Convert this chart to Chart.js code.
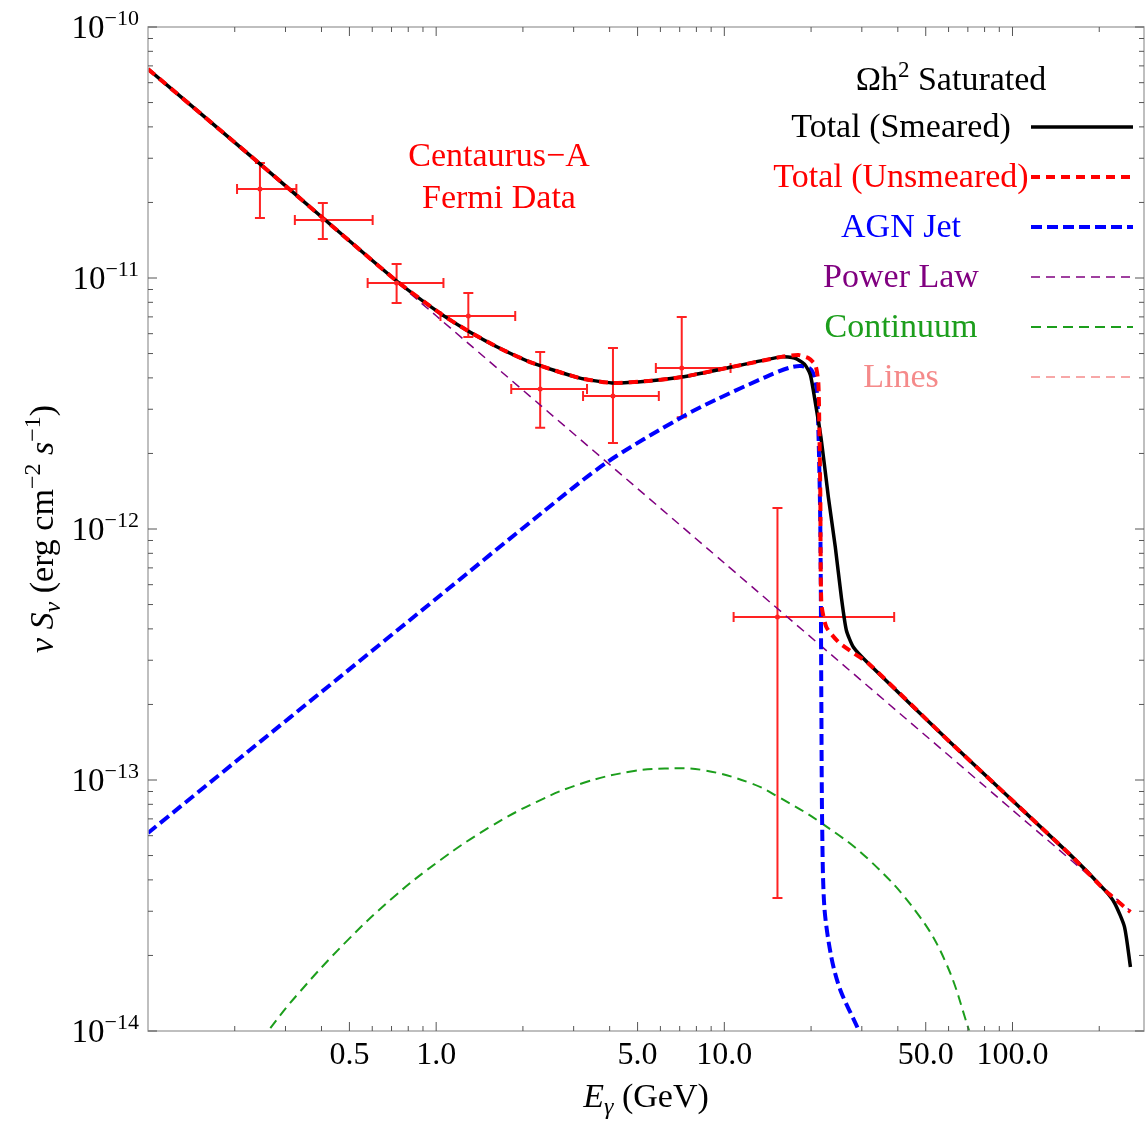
<!DOCTYPE html>
<html>
<head>
<meta charset="utf-8">
<script src="https://cdn.jsdelivr.net/npm/chart.js@4.4.0/dist/chart.umd.min.js"></script>
<style>
  html, body { margin: 0; padding: 0; background: #fff; }
  #wrap { width: 1148px; height: 1122px; position: relative; }
</style>
</head>
<body>
<div id="wrap"><canvas id="sed"></canvas></div>
<script>
const SERIF = '"Liberation Serif", "Times New Roman", "DejaVu Serif", serif';

// E (GeV) and nu S_nu (erg cm^-2 s^-1)
const smearedE = [0.1, 0.2446, 0.4043, 0.729, 1.027, 1.273, 1.656, 2.154, 3.132, 4.074, 5.47, 7.115, 10.60, 15.79, 17.51, 18.97, 19.89, 20.70, 21.71, 22.96, 24.27, 25.47, 26.50, 28.02, 31.57, 61.16, 159.1, 208.7, 225.9, 244.7, 256.6];
const smearedF = [6.80e-11, 2.85e-11, 1.734e-11, 9.73e-12, 7.26e-12, 6.21e-12, 5.26e-12, 4.59e-12, 4.00e-12, 3.82e-12, 3.89e-12, 4.03e-12, 4.42e-12, 4.85e-12, 4.80e-12, 4.54e-12, 4.11e-12, 3.18e-12, 2.26e-12, 1.341e-12, 8.48e-13, 5.36e-13, 3.96e-13, 3.39e-13, 2.92e-13, 1.404e-13, 5.02e-14, 3.65e-14, 3.24e-14, 2.60e-14, 1.80e-14];

const unsmearedE = [0.1, 0.2446, 0.4043, 0.729, 1.027, 1.273, 1.656, 2.154, 3.132, 4.074, 5.47, 7.115, 10.60, 15.79, 18.08, 19.57, 20.70, 21.20, 21.37, 21.54, 21.71, 22.59, 24.86, 28.02, 31.57, 61.16, 159.1, 208.7, 256.6];
const unsmearedF = [6.80e-11, 2.85e-11, 1.734e-11, 9.73e-12, 7.26e-12, 6.21e-12, 5.26e-12, 4.59e-12, 4.00e-12, 3.82e-12, 3.89e-12, 4.03e-12, 4.42e-12, 4.85e-12, 4.93e-12, 4.80e-12, 4.50e-12, 3.82e-12, 2.48e-12, 1.341e-12, 5.07e-13, 4.07e-13, 3.55e-13, 3.21e-13, 2.92e-13, 1.404e-13, 5.02e-14, 3.65e-14, 2.98e-14];

const agnE = [0.1, 0.2086, 0.4628, 1.027, 2.278, 3.884, 7.115, 9.33, 13.90, 16.69, 18.51, 20.05, 20.86, 21.20, 21.54, 21.71, 21.85, 22.24, 23.51, 25.26, 28.92, 30.59];
const agnF = [6.15e-14, 1.223e-13, 2.57e-13, 5.41e-13, 1.137e-12, 1.832e-12, 2.79e-12, 3.27e-12, 4.03e-12, 4.38e-12, 4.46e-12, 4.30e-12, 3.68e-12, 2.48e-12, 9.91e-13, 2.08e-13, 6.74e-14, 3.12e-14, 1.97e-14, 1.457e-14, 1.037e-14, 8.79e-15];

const powerLawE = [0.1, 1, 10, 100, 256.6];
const powerLawF = [6.80e-11, 7.07e-12, 7.32e-13, 7.59e-14, 3.01e-14];

const continuumE = [0.2485, 0.2629, 0.3312, 0.4856, 0.7059, 1.035, 1.517, 2.224, 3.234, 4.741, 6.216, 8.41, 12.31, 15.41, 21.71, 31.83, 46.67, 58.78, 70.6, 72.3];
const continuumF = [9.04e-15, 1.009e-14, 1.404e-14, 2.26e-14, 3.39e-14, 4.80e-14, 6.44e-14, 8.17e-14, 9.73e-14, 1.081e-13, 1.111e-13, 1.096e-13, 9.73e-14, 8.56e-14, 6.74e-14, 4.80e-14, 2.95e-14, 1.866e-14, 1.009e-14, 9.04e-15];

// line component lies below the plotted range
const linesE = [];
const linesF = [];

// Fermi data points with bin edges and flux errors
const fermiE   = [0.2446, 0.4043, 0.729, 1.293, 2.296, 4.107, 7.115, 15.29];
const fermiELo = [0.2037, 0.3233, 0.5784, 1.035, 1.822, 3.234, 5.786, 10.77];
const fermiEHi = [0.3273, 0.602, 1.060, 1.881, 3.338, 5.925, 10.51, 38.85];
const fermiF   = [2.26e-11, 1.702e-11, 9.55e-12, 7.06e-12, 3.61e-12, 3.39e-12, 4.38e-12, 4.46e-13];
const fermiFLo = [1.734e-11, 1.43e-11, 7.95e-12, 5.82e-12, 2.53e-12, 2.20e-12, 2.79e-12, 3.39e-14];
const fermiFHi = [2.87e-11, 1.99e-11, 1.137e-11, 8.71e-12, 5.07e-12, 5.26e-12, 6.99e-12, 1.213e-12];

const xMajorTicks = [0.5, 1, 5, 10, 50, 100];
const xMinorTicks = [0.2, 0.3, 0.4, 0.6, 0.7, 0.8, 0.9, 2, 3, 4, 6, 7, 8, 9, 20, 30, 40, 60, 70, 80, 90, 200];
const yMajorTicks = [1e-14, 1e-13, 1e-12, 1e-11, 1e-10];
const yMinorSteps = [2, 3, 4, 5, 6, 7, 8, 9];

const legendOrder = ['Total (Smeared)', 'Total (Unsmeared)', 'AGN Jet', 'Power Law', 'Continuum', 'Lines'];
const legendTitle = [{ t: 'Ωh' }, { t: '2', size: 23, dy: -13 }, { t: ' Saturated' }];
const sourceText = ['Centaurus\u2212A', 'Fermi Data'];

function pts(E, F) {
    return E.map((e, i) => ({ x: e, y: F[i] }));
}

function runFont(r, base) {
    return (r.italic ? 'italic ' : '') + (r.size || base) + 'px ' + SERIF;
}

// draw a line of text made of runs (sub/superscripts, italics)
function drawRuns(ctx, runs, x, y, base, color, align) {
    let total = 0;
    runs.forEach(r => { ctx.font = runFont(r, base); r.w = ctx.measureText(r.t).width; total += r.w; });
    let cx = align === 'right' ? x - total : x - total / 2;
    ctx.fillStyle = color;
    ctx.textAlign = 'left';
    ctx.textBaseline = 'alphabetic';
    runs.forEach(r => {
        ctx.font = runFont(r, base);
        ctx.fillText(r.t, cx, y + (r.dy || 0));
        cx += r.w;
    });
}

const errorBars = {
    id: 'errorBars',
    beforeDatasetsDraw(chart) {
        const { ctx, scales: { x, y } } = chart;
        ctx.save();
        ctx.strokeStyle = '#f22';
        ctx.lineWidth = 2;
        fermiE.forEach((e, i) => {
            const px = x.getPixelForValue(e), py = y.getPixelForValue(fermiF[i]);
            const x0 = x.getPixelForValue(fermiELo[i]), x1 = x.getPixelForValue(fermiEHi[i]);
            const y0 = y.getPixelForValue(fermiFLo[i]), y1 = y.getPixelForValue(fermiFHi[i]);
            ctx.beginPath();
            ctx.moveTo(x0, py); ctx.lineTo(x1, py);
            ctx.moveTo(x0, py - 5); ctx.lineTo(x0, py + 5);
            ctx.moveTo(x1, py - 5); ctx.lineTo(x1, py + 5);
            ctx.moveTo(px, y0); ctx.lineTo(px, y1);
            ctx.moveTo(px - 5, y0); ctx.lineTo(px + 5, y0);
            ctx.moveTo(px - 5, y1); ctx.lineTo(px + 5, y1);
            ctx.stroke();
        });
        ctx.restore();
    }
};

const frameAndText = {
    id: 'frameAndText',
    afterDraw(chart) {
        const { ctx, chartArea: a, scales: { x, y } } = chart;
        ctx.save();
        // frame
        ctx.strokeStyle = '#aaa';
        ctx.lineWidth = 1.5;
        ctx.strokeRect(a.left, a.top, a.right - a.left, a.bottom - a.top);
        // inward ticks on all four sides
        ctx.strokeStyle = '#555';
        ctx.lineWidth = 1;
        ctx.beginPath();
        const xt = xMajorTicks.map(v => [v, 9]).concat(xMinorTicks.map(v => [v, 5]));
        xt.forEach(([v, len]) => {
            const px = x.getPixelForValue(v);
            ctx.moveTo(px, a.bottom); ctx.lineTo(px, a.bottom - len);
            ctx.moveTo(px, a.top); ctx.lineTo(px, a.top + len);
        });
        const yt = [];
        yMajorTicks.forEach(d => {
            yt.push([d, 9]);
            yMinorSteps.forEach(m => { if (d * m < 1.01e-10) yt.push([d * m, 5]); });
        });
        yt.forEach(([v, len]) => {
            const py = y.getPixelForValue(v);
            ctx.moveTo(a.left, py); ctx.lineTo(a.left + len, py);
            ctx.moveTo(a.right, py); ctx.lineTo(a.right - len, py);
        });
        ctx.stroke();

        // y tick labels 10^n
        yMajorTicks.forEach(v => {
            const py = y.getPixelForValue(v);
            const n = Math.round(Math.log10(v));
            drawRuns(ctx, [{ t: '10' }, { t: '\u2212' + Math.abs(n), size: 22, dy: -13 }], 139, py + 11, 33, '#000', 'right');
        });

        // axis titles
        drawRuns(ctx, [{ t: 'E', italic: true }, { t: 'γ', italic: true, size: 24, dy: 7 }, { t: ' (GeV)' }],
            (a.left + a.right) / 2, 1107, 34, '#000');
        ctx.save();
        ctx.translate(53, (a.top + a.bottom) / 2);
        ctx.rotate(-Math.PI / 2);
        drawRuns(ctx, [{ t: 'ν', italic: true }, { t: ' ' }, { t: 'S', italic: true }, { t: 'ν', italic: true, size: 24, dy: 7 },
            { t: ' (erg cm' }, { t: '−2', size: 24, dy: -13 }, { t: ' ' }, { t: 's', italic: true }, { t: '−1', size: 24, dy: -13 }, { t: ')' }],
            0, 0, 34, '#000');
        ctx.restore();

        // source label
        drawRuns(ctx, [{ t: sourceText[0] }], 499, 166, 34, '#f00');
        drawRuns(ctx, [{ t: sourceText[1] }], 499, 208, 34, '#f00');

        // legend
        drawRuns(ctx, legendTitle, 951, 90, 34, '#000');
        legendOrder.forEach((name, i) => {
            const d = chart.data.datasets.find(s => s.label === name);
            const ly = 127 + i * 50;
            drawRuns(ctx, [{ t: d.label }], 901, ly + 10, 34, d.borderColor);
            ctx.beginPath();
            ctx.strokeStyle = d.borderColor;
            ctx.lineWidth = d.borderWidth;
            ctx.setLineDash(d.borderDash || []);
            ctx.moveTo(1031, ly); ctx.lineTo(1133, ly);
            ctx.stroke();
            ctx.setLineDash([]);
        });
        ctx.restore();
    }
};

const datasets = [
    { label: 'Total (Unsmeared)', data: pts(unsmearedE, unsmearedF), borderColor: '#ff0000', borderWidth: 4, borderDash: [9, 6], order: 0 },
    { label: 'Total (Smeared)', data: pts(smearedE, smearedF), borderColor: '#000000', borderWidth: 3.5, order: 1 },
    { label: 'AGN Jet', data: pts(agnE, agnF), borderColor: '#0000ff', borderWidth: 4, borderDash: [11, 5], order: 2, tension: 0.3 },
    { label: 'Power Law', data: pts(powerLawE, powerLawF), borderColor: '#800080', borderWidth: 1.5, borderDash: [9, 6], order: 3 },
    { label: 'Continuum', data: pts(continuumE, continuumF), borderColor: '#1c9e1c', borderWidth: 2, borderDash: [10, 6], order: 4, tension: 0.4 },
    { label: 'Lines', data: pts(linesE, linesF), borderColor: '#f58a8a', borderWidth: 1.5, borderDash: [9, 6], order: 5 },
    { label: 'Fermi Data', data: pts(fermiE, fermiF), showLine: false, pointRadius: 2.5, pointBackgroundColor: '#f22', pointBorderWidth: 0, borderColor: '#f22', order: -1 }
].map(d => Object.assign({ pointRadius: 0, fill: false, tension: 0.2 }, d));

new Chart(document.getElementById('sed'), {
    type: 'line',
    data: { datasets: datasets },
    options: {
        responsive: true,
        maintainAspectRatio: false,
        animation: false,
        layout: { padding: { top: 27, right: 1.5, left: 0, bottom: 0 } },
        plugins: { legend: { display: false }, tooltip: { enabled: false } },
        scales: {
            x: {
                type: 'logarithmic', min: 0.1, max: 286,
                grid: { display: false, drawTicks: false },
                border: { display: false },
                ticks: {
                    autoSkip: false, maxRotation: 0, padding: 5, color: '#000',
                    font: { family: SERIF, size: 32 },
                    callback: v => xMajorTicks.includes(v) ? v.toFixed(1) : ''
                },
                afterBuildTicks: s => { s.ticks = xMajorTicks.concat(xMinorTicks).sort((a, b) => a - b).map(v => ({ value: v })); },
                afterFit: s => { s.height = 91; }
            },
            y: {
                type: 'logarithmic', min: 1e-14, max: 1e-10,
                grid: { display: false, drawTicks: false },
                border: { display: false },
                ticks: { display: false },
                afterBuildTicks: s => { s.ticks = yMajorTicks.map(v => ({ value: v })); },
                afterFit: s => { s.width = 148; }
            }
        }
    },
    plugins: [errorBars, frameAndText]
});
</script>
</body>
</html>
